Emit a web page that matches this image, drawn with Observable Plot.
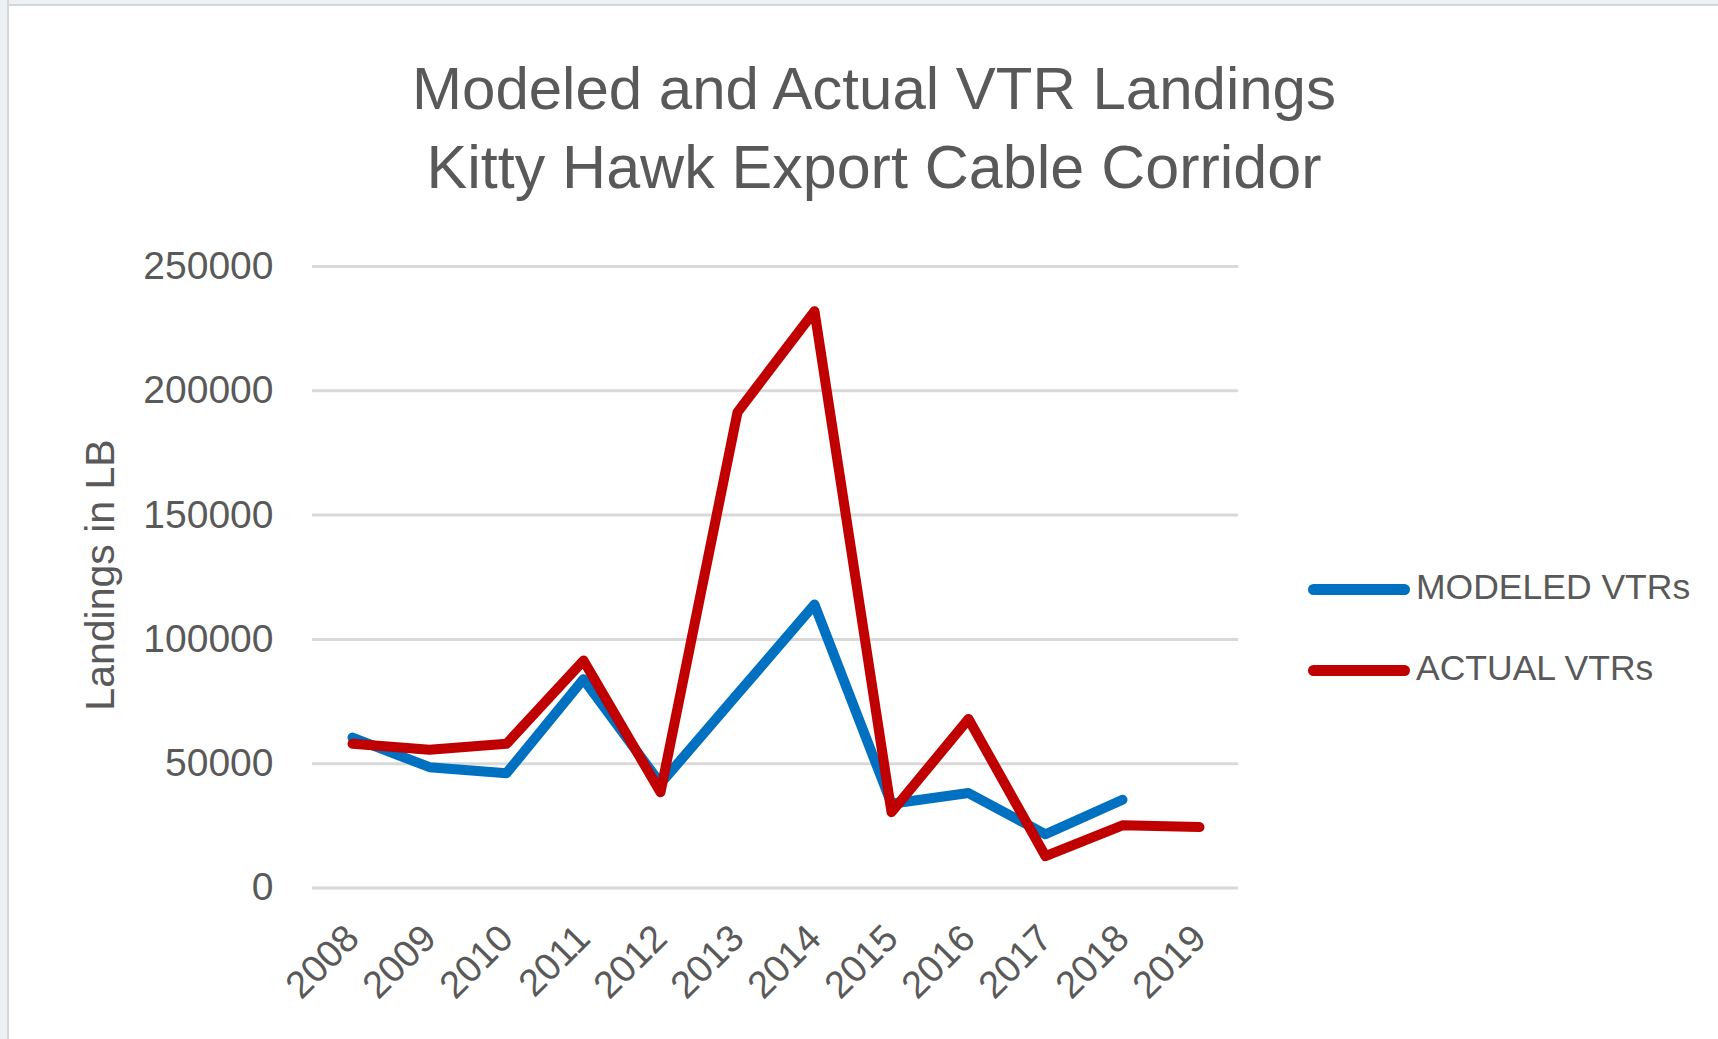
<!DOCTYPE html>
<html>
<head>
<meta charset="utf-8">
<script src="https://cdn.jsdelivr.net/npm/d3@7"></script>
<script src="https://cdn.jsdelivr.net/npm/@observablehq/plot@0.6"></script>
<style>
  body { margin: 0; background: #fff; }
  #root { position: relative; width: 1718px; height: 1039px; overflow: hidden;
          font-family: "Liberation Sans", Arial, sans-serif; color: #595959; background: #fff; }
  #topband { position: absolute; left: 0; top: 0; width: 1718px; height: 4px; background: #eef1f4; border-bottom: 2px solid #d3d7db; }
  #leftband { position: absolute; left: 0; top: 0; width: 7px; height: 1039px; background: #eef1f4; border-right: 2px solid #d3d7db; }
  #chart { position: absolute; left: 0; top: 0; }
  #title { position: absolute; left: 0; width: 1748px; top: 49px; text-align: center;
           font-size: 60px; line-height: 79px; white-space: nowrap; }
  #title .l2 { font-size: 61px; }
  #ylabel { position: absolute; left: 100px; top: 575px; transform: translate(-50%, -50%) rotate(-90deg);
            font-size: 41px; line-height: 41px; white-space: nowrap; }
  .leg { position: absolute; left: 1308px; height: 35px; display: block; }
  .leg .sw { position: absolute; left: 0; width: 102px; height: 11px; border-radius: 6px; }
  .leg .tx { position: absolute; left: 108px; top: 0; font-size: 35.5px; line-height: 35px; white-space: nowrap; }
</style>
</head>
<body>
<div id="root">
  <div id="topband"></div>
  <div id="leftband"></div>
  <div id="chart"></div>
  <div id="title">Modeled and Actual VTR Landings<br><span class="l2">Kitty Hawk Export Cable Corridor</span></div>
  <div id="ylabel">Landings in LB</div>
  <div id="legend"></div>
</div>
<script>
const years = ["2008", "2009", "2010", "2011", "2012", "2013", "2014", "2015", "2016", "2017", "2018", "2019"];
const modeled = [60500, 48600, 46200, 84000, 42000, 78000, 114000, 33900, 38200, 21600, 35500, null];
const actual = [58000, 55600, 58000, 91500, 38500, 191400, 232000, 30500, 68000, 12800, 25200, 24500];
const seriesNames = ["MODELED VTRs", "ACTUAL VTRs"];
const seriesColors = ["#0070C0", "#C00000"];
const yTicks = [0, 50000, 100000, 150000, 200000, 250000];

const rows = [];
[modeled, actual].forEach((vals, s) => {
  years.forEach((yr, i) => {
    if (vals[i] != null) rows.push({ year: yr, value: vals[i], series: seriesNames[s] });
  });
});

const chart = Plot.plot({
  width: 1718,
  height: 1039,
  marginLeft: 312,
  marginRight: 480,
  marginTop: 266,
  marginBottom: 151.5,
  style: { fontFamily: "'Liberation Sans', Arial, sans-serif", color: "#595959", background: "transparent", overflow: "visible" },
  x: { type: "point", domain: years, padding: 0.5 },
  y: { domain: [0, 250000] },
  color: { domain: seriesNames, range: seriesColors },
  marks: [
    Plot.ruleY(yTicks, { stroke: "#d9d9d9", strokeWidth: 3 }),
    Plot.axisY({ ticks: yTicks, tickSize: 0, tickPadding: 39, tickFormat: d3.format("d"), fontSize: 39, label: null }),
    Plot.axisX({ tickSize: 0, tickRotate: -45, tickPadding: 44, fontSize: 38, label: null }),
    Plot.line(rows, { x: "year", y: "value", z: "series", stroke: "series", strokeWidth: 10,
                      strokeLinejoin: "round", strokeLinecap: "round" })
  ]
});
document.getElementById("chart").appendChild(chart);

const legend = document.getElementById("legend");
const legTops = [570, 651];
seriesNames.forEach((name, i) => {
  const item = document.createElement("div");
  item.className = "leg";
  item.style.top = legTops[i] + "px";
  const sw = document.createElement("div");
  sw.className = "sw";
  sw.style.background = seriesColors[i];
  sw.style.top = "14px";
  const tx = document.createElement("div");
  tx.className = "tx";
  tx.textContent = name;
  item.appendChild(sw);
  item.appendChild(tx);
  legend.appendChild(item);
});
</script>
</body>
</html>
